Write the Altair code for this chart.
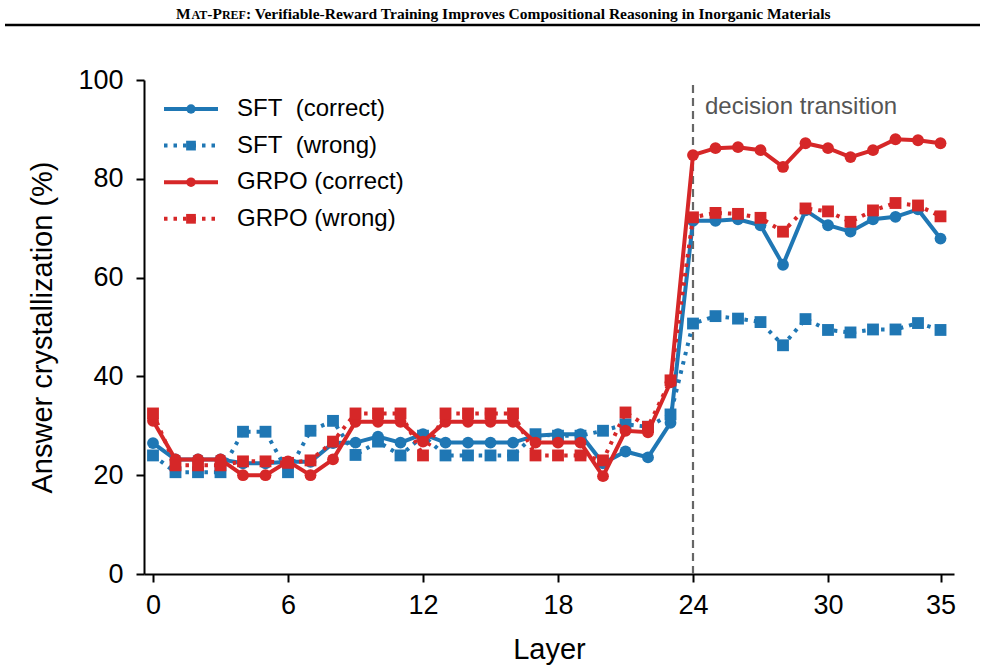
import altair as alt
import pandas as pd

# Layer index and per-series answer crystallization (%)
layers = list(range(36))

sft_correct = [26.5, 23.2, 23.2, 23.2, 22.4, 22.4, 22.7, 22.7, 26.5, 26.6,
               27.8, 26.6, 28.3, 26.6, 26.6, 26.6, 26.6, 28.0, 28.3, 28.3,
               22.4, 24.8, 23.6, 30.6, 71.5, 71.5, 71.8, 70.6, 62.6, 73.6,
               70.6, 69.3, 71.8, 72.3, 73.8, 67.9]

sft_wrong = [24.0, 20.6, 20.6, 20.6, 28.8, 28.8, 20.6, 29.0, 31.0, 24.1,
             26.8, 24.0, 28.0, 24.0, 24.0, 24.0, 24.0, 28.3, 28.0, 28.0,
             29.0, 30.3, 29.8, 32.3, 50.7, 52.2, 51.7, 51.0, 46.3, 51.6,
             49.4, 48.9, 49.5, 49.5, 50.8, 49.4]

grpo_correct = [31.0, 23.2, 23.2, 23.2, 20.0, 20.0, 22.8, 20.0, 23.2, 30.8,
                30.8, 30.8, 26.8, 30.8, 30.8, 30.8, 30.8, 26.6, 26.6, 26.6,
                19.8, 29.0, 28.7, 38.8, 84.8, 86.2, 86.4, 85.8, 82.4, 87.2,
                86.2, 84.4, 85.8, 88.0, 87.8, 87.2]

grpo_wrong = [32.5, 22.0, 22.0, 22.0, 22.8, 22.8, 22.5, 23.0, 26.8, 32.5,
              32.5, 32.5, 24.0, 32.5, 32.5, 32.5, 32.5, 24.0, 24.0, 24.0,
              23.0, 32.7, 29.8, 39.2, 72.2, 73.1, 72.9, 72.1, 69.3, 74.0,
              73.4, 71.3, 73.6, 75.1, 74.6, 72.4]

series_labels = ["SFT\u00a0 (correct)", "SFT\u00a0 (wrong)", "GRPO (correct)", "GRPO (wrong)"]
series_values = [sft_correct, sft_wrong, grpo_correct, grpo_wrong]
series_colors = ["#1f77b4", "#1f77b4", "#d62728", "#d62728"]
series_dotted = [False, True, False, True]
series_shapes = ["circle", "square", "circle", "square"]

x_ticks = [0, 6, 12, 18, 24, 30, 35]
y_ticks = [0, 20, 40, 60, 80, 100]
transition_layer = 24

FONT = "Liberation Sans"
SERIF = "Liberation Serif"
LW = 4

x_enc = alt.X(
    "layer:Q",
    scale=alt.Scale(domain=[-0.4, 35.6], nice=False, zero=False),
    axis=alt.Axis(values=x_ticks, title="Layer", format="d",
                  labelPadding=10, titlePadding=17),
)
y_enc = alt.Y(
    "value:Q",
    scale=alt.Scale(domain=[0, 100], nice=False),
    axis=alt.Axis(values=y_ticks, title="Answer crystallization (%)",
                  labelPadding=13, titlePadding=20),
)

layers_out = []

# vertical marker for the decision transition
trans_df = pd.DataFrame({"layer": [transition_layer], "lo": [0], "hi": [100],
                         "ty": [94.5], "txt": ["decision transition"]})
layers_out.append(
    alt.Chart(trans_df).mark_rule(color="#666666", strokeWidth=2.2, strokeDash=[8, 5]).encode(
        x=x_enc, y=alt.Y("lo:Q", scale=alt.Scale(domain=[0, 100], nice=False)), y2="hi:Q"
    )
)
layers_out.append(
    alt.Chart(trans_df).mark_text(align="left", baseline="middle", dx=12, font=FONT,
                                  fontSize=24, color="#555555").encode(
        x=x_enc, y=alt.Y("ty:Q", scale=alt.Scale(domain=[0, 100], nice=False)), text="txt:N"
    )
)

# series lines with markers
for i, (lab, vals) in enumerate(zip(series_labels, series_values)):
    df = pd.DataFrame({"layer": layers, "value": vals, "series": lab})
    line_kw = dict(color=series_colors[i], strokeWidth=LW)
    if series_dotted[i]:
        line_kw.update(strokeDash=[3.5, 6], strokeCap="butt")
    base = alt.Chart(df).encode(x=x_enc, y=y_enc)
    layers_out.append(base.mark_line(**line_kw))
    layers_out.append(base.mark_point(filled=True, opacity=1, shape=series_shapes[i],
                                      size=140 if series_shapes[i] == "circle" else 140,
                                      color=series_colors[i]))

# legend block (pixel positions within the plot area)
for i, lab in enumerate(series_labels):
    leg = pd.DataFrame({"ly": [29 + i * 36.6], "label": [lab]})
    ly = alt.Y("ly:Q", scale=None, axis=None)
    rule_kw = dict(color=series_colors[i], strokeWidth=LW)
    if series_dotted[i]:
        rule_kw.update(strokeDash=[3.5, 6], strokeCap="butt")
    layers_out.append(alt.Chart(leg).mark_rule(**rule_kw).encode(
        x=alt.value(20), x2=alt.value(74), y=ly))
    layers_out.append(alt.Chart(leg).mark_point(filled=True, opacity=1, shape=series_shapes[i],
                                                size=90 if series_shapes[i] == "circle" else 95,
                                                color=series_colors[i]).encode(
        x=alt.value(47), y=ly))
    layers_out.append(alt.Chart(leg).mark_text(align="left", baseline="middle", font=FONT,
                                               fontSize=24, color="black").encode(
        x=alt.value(93), y=ly, text="label:N"))

# running header above the figure (small caps built from two sizes)
HS, hs = 15.5, 12
rest_x = 176 + 1.888 * HS + 3.389 * hs - 144
pieces = [
    ("REF", hs, rest_x),
    ("P", HS, rest_x - 2.0 * hs),
    ("-", HS, rest_x - 2.0 * hs - 0.611 * HS),
    ("AT", hs, rest_x - 2.0 * hs - 0.944 * HS),
    ("M", HS, rest_x - 3.389 * hs - 0.944 * HS),
]
for txt, fs, px in pieces:
    layers_out.append(alt.Chart(pd.DataFrame({"t": [txt]})).mark_text(
        align="right", baseline="alphabetic", font=SERIF, fontWeight="bold",
        fontSize=fs, color="black").encode(x=alt.value(px), y=alt.value(-61), text="t:N"))
layers_out.append(alt.Chart(pd.DataFrame({"t": [": Verifiable-Reward Training Improves Compositional Reasoning in Inorganic Materials"]})).mark_text(
    align="left", baseline="alphabetic", font=SERIF, fontWeight="bold",
    fontSize=HS, color="black").encode(x=alt.value(rest_x), y=alt.value(-61), text="t:N"))
layers_out.append(alt.Chart(pd.DataFrame({"a": [0]})).mark_rule(color="black", strokeWidth=2.5).encode(
    x=alt.value(-139), x2=alt.value(836), y=alt.value(-55)))

chart = alt.layer(*layers_out).properties(
    width=810, height=494,
    padding={"left": 144, "top": 80, "right": 31, "bottom": 97},
    autosize="none",
).configure_view(stroke=None).configure_axis(
    grid=False, domainColor="black", domainWidth=2, tickColor="black", tickWidth=2,
    tickSize=8, labelFont=FONT, labelFontSize=27, labelColor="black",
    titleFont=FONT, titleFontSize=29, titleFontWeight="normal", titleColor="black",
)

chart.save("out.html", embed_options={"renderer": "svg", "actions": False})
